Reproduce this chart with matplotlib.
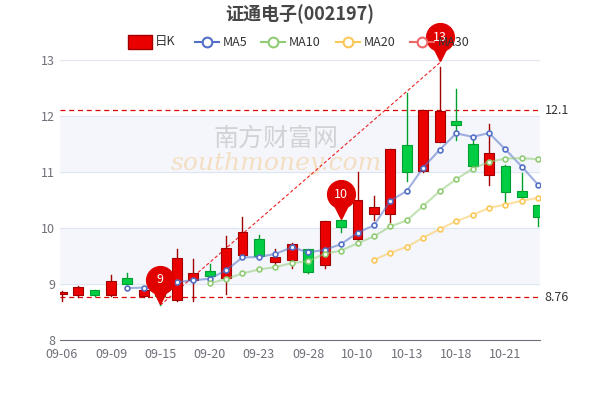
import matplotlib
matplotlib.use("Agg")
import matplotlib.pyplot as plt
from matplotlib.patches import Rectangle
import pandas as pd
import numpy as np

plt.rcParams['font.family'] = ['Noto Sans CJK SC', 'DejaVu Sans']

dates = ["09-06", "09-07", "09-08", "09-09", "09-13", "09-14", "09-15", "09-16", "09-19", "09-20",
         "09-21", "09-22", "09-23", "09-26", "09-27", "09-28", "09-29", "09-30", "10-10", "10-11",
         "10-12", "10-13", "10-14", "10-17", "10-18", "10-19", "10-20", "10-21", "10-24", "10-25"]
opens = [8.83, 8.80, 8.89, 8.80, 9.10, 8.79, 8.83, 8.72, 9.07, 9.23,
         9.11, 9.52, 9.80, 9.39, 9.43, 9.62, 9.34, 10.14, 9.80, 10.25,
         10.25, 11.48, 11.02, 11.54, 11.91, 11.50, 10.95, 11.11, 10.66, 10.41]
closes = [8.85, 8.94, 8.80, 9.05, 9.00, 8.89, 8.78, 9.46, 9.20, 9.14,
          9.64, 9.93, 9.50, 9.48, 9.72, 9.21, 10.13, 10.02, 10.50, 10.38,
          11.41, 11.00, 12.11, 12.09, 11.84, 11.10, 11.34, 10.64, 10.55, 10.20]
highs = [8.88, 8.96, 8.90, 9.16, 9.20, 8.93, 8.86, 9.62, 9.45, 9.36,
         9.85, 10.19, 9.87, 9.62, 9.73, 9.62, 10.13, 10.14, 11.00, 10.58,
         11.41, 12.41, 12.11, 12.88, 12.48, 11.60, 11.86, 11.12, 10.98, 10.41]
lows = [8.70, 8.77, 8.78, 8.78, 9.00, 8.76, 8.62, 8.70, 8.70, 9.12,
        8.82, 9.48, 9.45, 9.30, 9.28, 9.20, 9.28, 9.93, 9.78, 10.14,
        10.11, 10.84, 11.00, 11.54, 11.57, 11.08, 10.77, 10.45, 10.50, 10.04]
ma_periods = [5, 10, 20]
ma_colors = ["#5470c6", "#91cc75", "#fac858"]
ref_lines = [12.1, 8.76]
pins = [(6, 8.62, "9"), (17, 10.14, "10"), (23, 12.95, "13")]

UP = "#eb0000"
DOWN = "#00cc44"

fig = plt.figure(figsize=(6, 4), dpi=100)
ax = fig.add_axes([0.1, 0.15, 0.8, 0.70])
x = np.arange(len(dates))

for lo, hi in [(9, 10), (11, 12)]:
    ax.axhspan(lo, hi, color="#f4f6fc", zorder=0)
for y in range(8, 14):
    ax.axhline(y, color="#e0e6f1", lw=0.8, zorder=0)

ax.text(0.45, 0.72, "南方财富网", transform=ax.transAxes, fontsize=18, color="#bbbbbb",
        alpha=0.6, ha="center", va="center", zorder=1)
ax.text(0.45, 0.63, "southmoney.com", transform=ax.transAxes, fontsize=18, color="#f5d5a8",
        style="italic", family="DejaVu Serif", alpha=0.7, ha="center", va="center", zorder=1)

w = 0.6
for i in x:
    o, c, h, l = opens[i], closes[i], highs[i], lows[i]
    up = c >= o
    col = UP if up else DOWN
    edge = "#a00000" if up else "#00a030"
    ax.plot([i, i], [l, h], color=edge, lw=1, zorder=3)
    ax.add_patch(Rectangle((i - w / 2, min(o, c)), w, max(abs(c - o), 0.02),
                           facecolor=col, edgecolor=edge, lw=0.8, zorder=4))

cs = pd.Series(closes)
for p, col in zip(ma_periods, ma_colors):
    ma = cs.rolling(p).mean()
    ax.plot(x, ma, color=col, lw=1.5, alpha=0.55, zorder=5)
    ax.plot(x, ma, "o", ms=3.5, mfc="white", mec=col, mew=1.2, zorder=6)

for v in ref_lines:
    ax.axhline(v, color="#dd0000", ls=(0, (4, 3)), lw=0.9, zorder=2)
    ax.text(1.01, v, f"{v:g}", transform=ax.get_yaxis_transform(), va="center",
            fontsize=9, color="#333333")
(i0, y0, _), (i1, y1, _) = pins[0], pins[2]
ax.plot([i0, i1], [y0, y1], color="#ee2222", ls=(0, (3, 2)), lw=0.8, zorder=2)

for i, v, lab in pins:
    ax.plot(i, v + 0.17, marker="v", ms=11, color="#e00000", zorder=8, clip_on=False)
    ax.plot(i, v + 0.46, marker="o", ms=20, color="#e00000", zorder=8, clip_on=False)
    ax.text(i, v + 0.46, lab, color="white", fontsize=9, ha="center", va="center", zorder=9)

ax.set_xlim(-0.1, len(dates) - 0.9)
ax.set_ylim(8, 13)
ax.set_yticks(range(8, 14))
ax.set_xticks(x[::3])
ax.set_xticklabels(dates[::3])
ax.tick_params(colors="#6e7079", labelsize=9, length=0)
ax.tick_params(axis="x", pad=6)
for s in ["top", "right", "left"]:
    ax.spines[s].set_visible(False)
ax.spines["bottom"].set_color("#6e7079")

fig.text(0.5, 0.965, "证通电子(002197)", ha="center", va="center", fontsize=13,
         color="#464646", fontweight="bold")

# legend
ly = 0.895
fig.patches.append(Rectangle((0.213, ly - 0.018), 0.04, 0.036, transform=fig.transFigure,
                             facecolor=UP, edgecolor="#a00000", lw=1, joinstyle="round"))
fig.text(0.258, ly, "日K", fontsize=9, color="#333333", va="center")
items = [("MA5", ma_colors[0], 0.325), ("MA10", ma_colors[1], 0.435),
         ("MA20", ma_colors[2], 0.56), ("MA30", "#ee6666", 0.683)]
for lab, col, lx in items:
    fig.lines.append(plt.Line2D([lx, lx + 0.04], [ly, ly], transform=fig.transFigure,
                                color=col, lw=1.5))
    fig.lines.append(plt.Line2D([lx + 0.02], [ly], transform=fig.transFigure, marker="o",
                                ms=7, mfc="white", mec=col, mew=1.5))
    fig.text(lx + 0.047, ly, lab, fontsize=9, color="#333333", va="center")

fig.savefig("out.png", dpi=100)
